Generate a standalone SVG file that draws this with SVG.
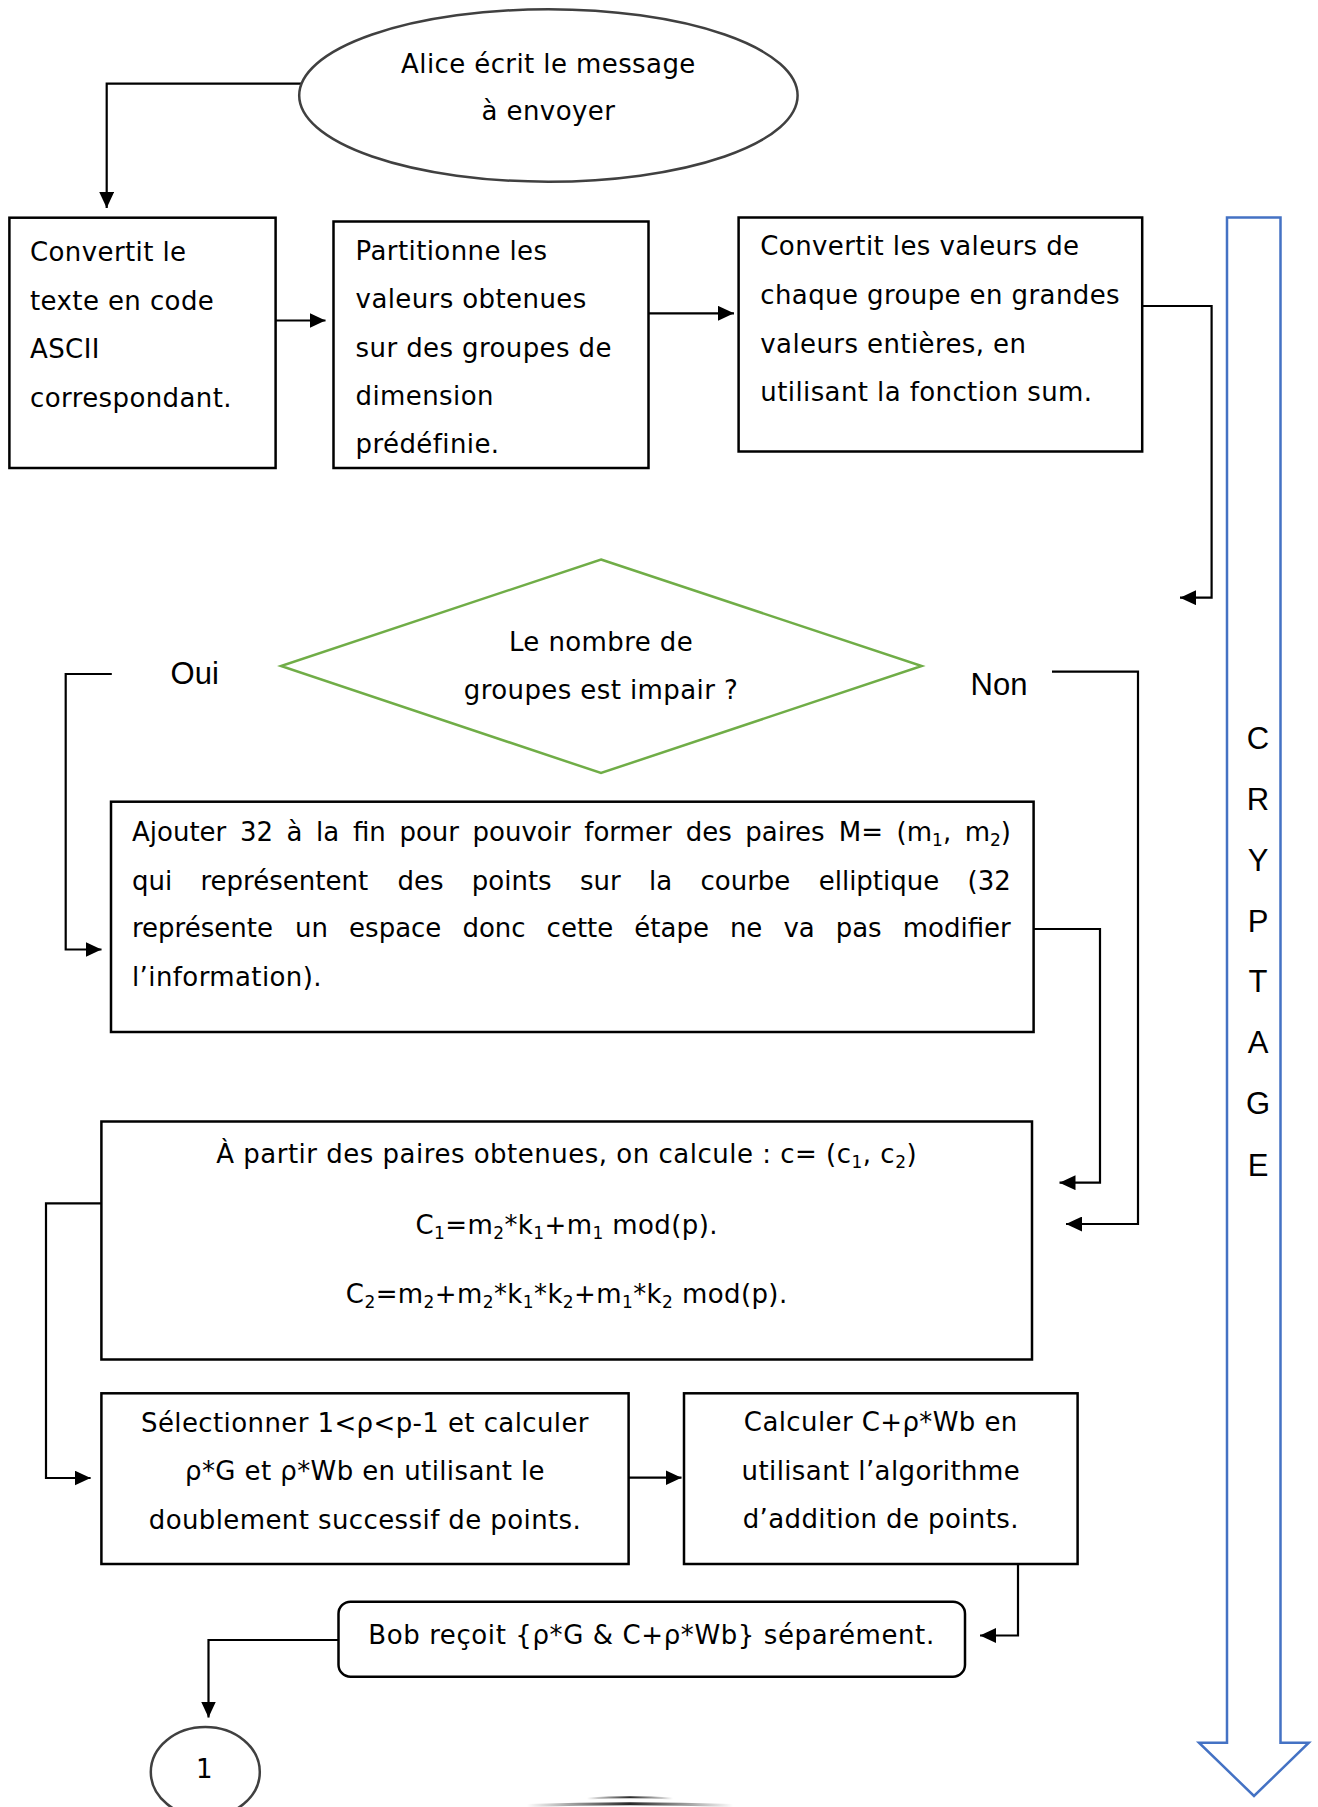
<svg xmlns="http://www.w3.org/2000/svg" width="1318" height="1807" viewBox="0 0 1318 1807">
<style>
.box{fill:#fff;stroke:#000;stroke-width:2.5}
.oval{fill:#fff;stroke:#404040;stroke-width:2.5}
.dia{fill:#fff;stroke:#70AD47;stroke-width:2.5}
.blue{fill:#fff;stroke:#4472C4;stroke-width:2.5}
.t{font-family:"DejaVu Sans",Verdana,sans-serif;font-size:26px;fill:#000;letter-spacing:0.4px}
.j{letter-spacing:0}
.c{text-anchor:middle}
.sub{font-size:17px}
.lab{font-family:"Liberation Sans",Arial,sans-serif;font-size:31px;fill:#000;text-anchor:middle}
.con{fill:none;stroke:#000;stroke-width:2.2;marker-end:url(#ah)}
</style>
<defs>
<marker id="ah" markerUnits="userSpaceOnUse" markerWidth="16" markerHeight="15" viewBox="0 0 15 14" refX="15" refY="7" orient="auto">
<path d="M0,0 L15,7 L0,14 Z" fill="#000"/>
</marker>
<linearGradient id="fade" x1="0" x2="1" y1="0" y2="0">
<stop offset="0" stop-color="#000" stop-opacity="0"/>
<stop offset="0.5" stop-color="#000" stop-opacity="0.85"/>
<stop offset="1" stop-color="#000" stop-opacity="0"/>
</linearGradient>
</defs>

<g id="connectors">
<path class="con" d="M301 83.7 H106.7 V208"/>
<path class="con" d="M275.6 320.5 H325.5"/>
<path class="con" d="M648.5 313.3 H734"/>
<path class="con" d="M1142 306 H1211.6 V597.7 H1180"/>
<path class="con" d="M111.8 674 H65.7 V949.5 H101.5"/>
<path class="con" d="M1052 671.7 H1138 V1224 H1066"/>
<path class="con" d="M1033.6 929 H1100 V1182.7 H1059.5"/>
<path class="con" d="M101.4 1203.3 H46 V1478 H90.6"/>
<path class="con" d="M628.6 1477.7 H681.5"/>
<path class="con" d="M1018 1564 V1635.5 H980"/>
<path class="con" d="M338.5 1640 H208.5 V1717.5"/>
</g>

<g id="start">
<ellipse class="oval" cx="548.4" cy="95.5" rx="249.2" ry="86.2"/>
<text class="t c" x="548.4" y="72.7">Alice écrit le message</text>
<text class="t c" x="548.4" y="119.5">à envoyer</text>
</g>

<g id="ascii">
<rect class="box" x="9.4" y="217.7" width="266.2" height="250.3"/>
<text class="t" x="30" y="261">Convertit le</text>
<text class="t" x="30" y="310">texte en code</text>
<text class="t" x="30" y="358">ASCII</text>
<text class="t" x="30" y="407">correspondant.</text>
</g>

<g id="partition">
<rect class="box" x="333.5" y="221.5" width="315" height="246.5"/>
<text class="t" x="355.6" y="259.5">Partitionne les</text>
<text class="t" x="355.6" y="308">valeurs obtenues</text>
<text class="t" x="355.6" y="356.5">sur des groupes de</text>
<text class="t" x="355.6" y="404.5">dimension</text>
<text class="t" x="355.6" y="453">prédéfinie.</text>
</g>

<g id="convert">
<rect class="box" x="738.6" y="217.5" width="403.6" height="234"/>
<text class="t" x="760.3" y="255">Convertit les valeurs de</text>
<text class="t" x="760.3" y="304">chaque groupe en grandes</text>
<text class="t" x="760.3" y="352.7">valeurs entières, en</text>
<text class="t" x="760.3" y="400.7">utilisant la fonction sum.</text>
</g>

<g id="decision">
<polygon class="dia" points="601,559.5 921.7,666 601,773 281,666"/>
<text class="t c" x="601" y="651">Le nombre de</text>
<text class="t c" x="601" y="699">groupes est impair ?</text>
<text class="lab" x="194.7" y="684">Oui</text>
<text class="lab" x="999" y="695">Non</text>
</g>

<g id="ajouter">
<rect class="box" x="111" y="801.7" width="922.6" height="230.3"/>
<text class="t j" y="840.5"><tspan x="132">Ajouter</tspan><tspan x="239.9">32</tspan><tspan x="286.6">à</tspan><tspan x="316.1">la</tspan><tspan x="352.9">fin</tspan><tspan x="399.4">pour</tspan><tspan x="472.6">pouvoir</tspan><tspan x="584.3">former</tspan><tspan x="685.7">des</tspan><tspan x="745.3">paires</tspan><tspan x="838.8">M=</tspan><tspan x="896.6">(m</tspan><tspan class="sub" dy="5">1</tspan><tspan dy="-5">,</tspan><tspan x="964.7">m</tspan><tspan class="sub" dy="5">2</tspan><tspan dy="-5">)</tspan></text>
<text class="t j" y="889.5"><tspan x="132">qui</tspan><tspan x="200.5">représentent</tspan><tspan x="397.5">des</tspan><tspan x="471.8">points</tspan><tspan x="580">sur</tspan><tspan x="649">la</tspan><tspan x="700.5">courbe</tspan><tspan x="818.7">elliptique</tspan><tspan x="967.6">(32</tspan></text>
<text class="t j" y="936.7"><tspan x="132">représente</tspan><tspan x="295.1">un</tspan><tspan x="349.1">espace</tspan><tspan x="462.4">donc</tspan><tspan x="546.6">cette</tspan><tspan x="634.3">étape</tspan><tspan x="729.9">ne</tspan><tspan x="783.4">va</tspan><tspan x="835.7">pas</tspan><tspan x="902.7">modifier</tspan></text>
<text class="t" x="132" y="985.7">l’information).</text>
</g>

<g id="calcule">
<rect class="box" x="101.4" y="1121.5" width="930.6" height="238"/>
<text class="t c" x="566.7" y="1163" style="letter-spacing:0.5px">À partir des paires obtenues, on calcule : c= (c<tspan class="sub" dy="5">1</tspan><tspan dy="-5">, c</tspan><tspan class="sub" dy="5">2</tspan><tspan dy="-5">)</tspan></text>
<text class="t c" x="566.7" y="1233.5">C<tspan class="sub" dy="5">1</tspan><tspan dy="-5">=m</tspan><tspan class="sub" dy="5">2</tspan><tspan dy="-5">*k</tspan><tspan class="sub" dy="5">1</tspan><tspan dy="-5">+m</tspan><tspan class="sub" dy="5">1</tspan><tspan dy="-5"> mod(p).</tspan></text>
<text class="t c" x="566.7" y="1302.5">C<tspan class="sub" dy="5">2</tspan><tspan dy="-5">=m</tspan><tspan class="sub" dy="5">2</tspan><tspan dy="-5">+m</tspan><tspan class="sub" dy="5">2</tspan><tspan dy="-5">*k</tspan><tspan class="sub" dy="5">1</tspan><tspan dy="-5">*k</tspan><tspan class="sub" dy="5">2</tspan><tspan dy="-5">+m</tspan><tspan class="sub" dy="5">1</tspan><tspan dy="-5">*k</tspan><tspan class="sub" dy="5">2</tspan><tspan dy="-5"> mod(p).</tspan></text>
</g>

<g id="selection">
<rect class="box" x="101.4" y="1393.3" width="527.2" height="170.7"/>
<text class="t c" x="365" y="1431.7">Sélectionner 1&lt;ρ&lt;p-1 et calculer</text>
<text class="t c" x="365" y="1480">ρ*G et ρ*Wb en utilisant le</text>
<text class="t c" x="365" y="1529">doublement successif de points.</text>
</g>

<g id="addition">
<rect class="box" x="684" y="1393.3" width="393.6" height="170.7"/>
<text class="t c" x="880.8" y="1430.5">Calculer C+ρ*Wb en</text>
<text class="t c" x="880.8" y="1479.5">utilisant l’algorithme</text>
<text class="t c" x="880.8" y="1528">d’addition de points.</text>
</g>

<g id="bob">
<rect class="box" x="338.5" y="1601.7" width="626.5" height="75" rx="12" ry="12"/>
<text class="t c" x="651.5" y="1644" style="letter-spacing:0.6px">Bob reçoit {ρ*G &amp; C+ρ*Wb} séparément.</text>
</g>

<g id="connector1">
<ellipse class="oval" cx="205.3" cy="1772" rx="54.5" ry="45"/>
<text class="t c" x="204.5" y="1778">1</text>
</g>

<g id="cryptage">
<polygon class="blue" points="1227,217.5 1280.5,217.5 1280.5,1742.7 1308.8,1742.7 1254,1796 1199,1742.7 1227,1742.7"/>
<text class="lab" x="1258" y="749">C</text>
<text class="lab" x="1258" y="810">R</text>
<text class="lab" x="1258" y="870.7">Y</text>
<text class="lab" x="1258" y="931.7">P</text>
<text class="lab" x="1258" y="992.3">T</text>
<text class="lab" x="1258" y="1053">A</text>
<text class="lab" x="1258" y="1113.5">G</text>
<text class="lab" x="1258" y="1175.7">E</text>
</g>

<g id="next-shape">
<path d="M587 1798.5 Q630 1796 673 1798.5" fill="none" stroke="url(#fade)" stroke-width="2"/>
<path d="M527 1805.5 Q630 1802 733 1805.5" fill="none" stroke="url(#fade)" stroke-width="3"/>
</g>
</svg>
